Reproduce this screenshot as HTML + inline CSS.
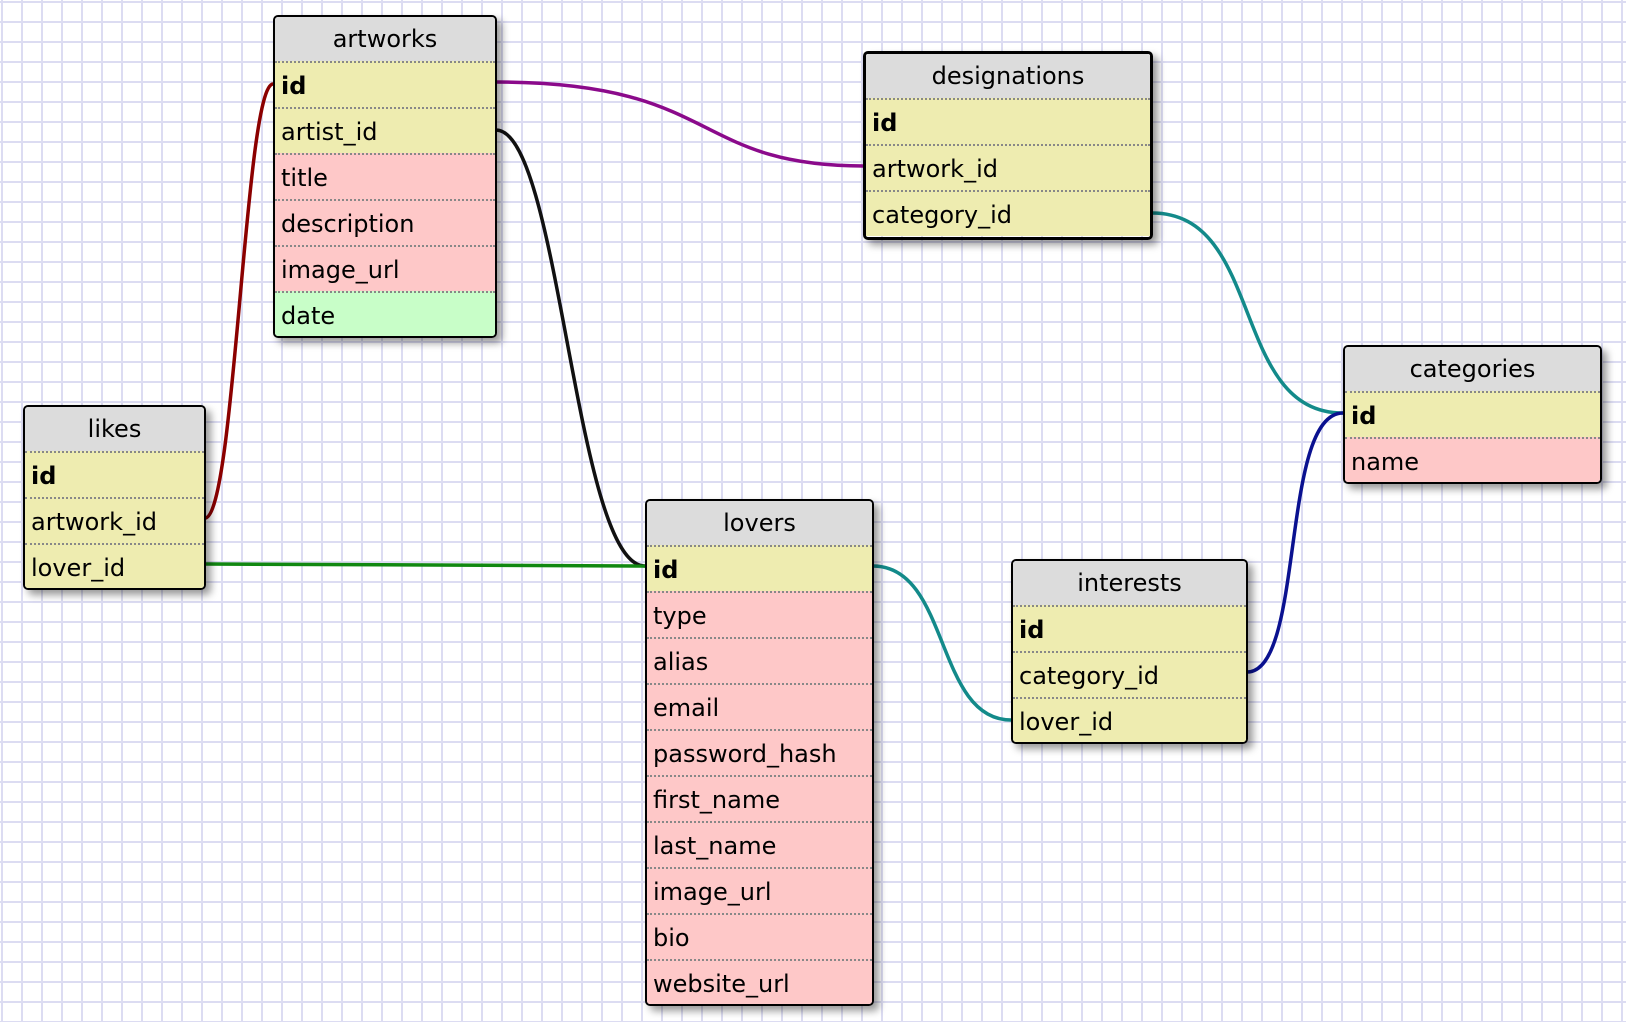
<!DOCTYPE html>
<html><head><meta charset="utf-8"><style>
html,body{margin:0;padding:0}
body{width:1626px;height:1022px;position:relative;overflow:hidden;background-color:#fff;
background-image:linear-gradient(to right,#dcdcf2 2px,transparent 2px),linear-gradient(to bottom,#dcdcf2 2px,transparent 2px);
background-size:20px 20px;background-position:1px 1px;font-family:"DejaVu Sans","Liberation Sans",sans-serif}
.t{position:absolute;border:2px solid #000;border-radius:5px;box-shadow:5px 5px 8px rgba(0,0,0,.4);overflow:hidden;box-sizing:border-box}
.t div{height:46px;line-height:46px;font-size:24px;padding-left:6px;box-sizing:border-box;border-top:2px dotted #888;white-space:nowrap;color:#000}
.t div.h{background:#dcdcdc;text-align:center;padding-left:0;border-top:none;height:44px;line-height:44px}
.y{background:#eeecb0}.p{background:#fec8c8}.g{background:#c8fec8}
.b{font-weight:bold}
svg{position:absolute;left:0;top:0}
</style></head><body>
<svg width="1626" height="1022" fill="none" stroke-width="3.5">
<path d="M205,518 C235,518 245,84 273,84" stroke="#8b0000"/>
<path d="M496,130 C560,130 575,566 645,566" stroke="#111"/>
<path d="M496,82 C720,82 690,166 864,166" stroke="#8b0a8b"/>
<path d="M1152,213 C1265,213 1230,413 1343,413" stroke="#138a8a"/>
<path d="M1247,672 C1305,672 1280,413 1343,413" stroke="#0a1190"/>
<path d="M873,566 C950,566 935,720 1011,720" stroke="#138a8a"/>
<path d="M205,564 L645,566" stroke="#118811"/>
</svg>
<div class="t" style="left:273px;top:15px;width:224px;height:323px">
<div class="h">artworks</div><div class="y b">id</div><div class="y">artist_id</div><div class="p">title</div><div class="p">description</div><div class="p">image_url</div><div class="g">date</div></div>
<div class="t" style="left:863px;top:51px;width:290px;height:189px;border-width:3px">
<div class="h">designations</div><div class="y b">id</div><div class="y">artwork_id</div><div class="y">category_id</div></div>
<div class="t" style="left:1343px;top:345px;width:259px;height:139px">
<div class="h">categories</div><div class="y b">id</div><div class="p">name</div></div>
<div class="t" style="left:23px;top:405px;width:183px;height:185px">
<div class="h">likes</div><div class="y b">id</div><div class="y">artwork_id</div><div class="y">lover_id</div></div>
<div class="t" style="left:1011px;top:559px;width:237px;height:185px">
<div class="h">interests</div><div class="y b">id</div><div class="y">category_id</div><div class="y">lover_id</div></div>
<div class="t" style="left:645px;top:499px;width:229px;height:507px">
<div class="h">lovers</div><div class="y b">id</div><div class="p">type</div><div class="p">alias</div><div class="p">email</div><div class="p">password_hash</div><div class="p">first_name</div><div class="p">last_name</div><div class="p">image_url</div><div class="p">bio</div><div class="p">website_url</div></div>
</body></html>
